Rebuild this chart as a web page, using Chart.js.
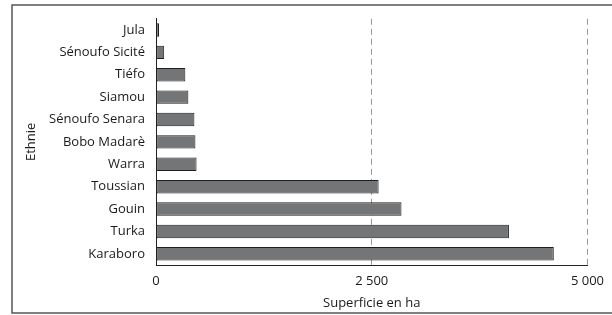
<!DOCTYPE html>
<html>
<head>
<meta charset="utf-8">
<script src="https://cdn.jsdelivr.net/npm/chart.js@4"></script>
<style>
  body { margin: 0; background: #fff; }
  #wrap { width: 612px; height: 315px; }
</style>
</head>
<body>
<div id="wrap"><canvas id="surfaceChart" width="612" height="315"></canvas></div>
<script>
const ethnies = ['Jula', 'Sénoufo Sicité', 'Tiéfo', 'Siamou', 'Sénoufo Senara', 'Bobo Madarè', 'Warra', 'Toussian', 'Gouin', 'Turka', 'Karaboro'];
const superficies = [35, 95, 340, 375, 445, 457, 470, 2580, 2845, 4090, 4610];
const xTicks = [0, 2500, 5000];
const xTickLabels = ['0', '2 500', '5 000'];

// cadre autour du graphique
const framePlugin = {
  id: 'frame',
  beforeDraw(chart) {
    const ctx = chart.ctx;
    ctx.save();
    ctx.strokeStyle = '#555';
    ctx.lineWidth = 1.5;
    ctx.beginPath();
    ctx.moveTo(615, 5);
    ctx.lineTo(12, 5);
    ctx.lineTo(12, 313);
    ctx.lineTo(615, 313);
    ctx.stroke();
    ctx.restore();
  }
};

const font = { family: 'Open Sans', size: 13 };

const ctx = document.getElementById('surfaceChart').getContext('2d');
new Chart(ctx, {
  type: 'bar',
  data: {
    labels: ethnies,
    datasets: [{
      label: 'Superficie',
      data: superficies,
      backgroundColor: '#737577',
      borderColor: '#1e1e1e',
      borderWidth: 1,
      borderSkipped: false,
      barPercentage: 0.6,
      categoryPercentage: 1
    }]
  },
  options: {
    indexAxis: 'y',
    responsive: false,
    animation: false,
    layout: { padding: { left: 23, top: 14, right: 23, bottom: 4 } },
    plugins: {
      legend: { display: false },
      tooltip: { enabled: false }
    },
    scales: {
      x: {
        min: 0,
        max: 5000,
        afterBuildTicks(scale) {
          scale.ticks = xTicks.map(v => ({ value: v }));
        },
        afterFit(scale) { scale.height = 46; },
        ticks: {
          color: '#1a1a1a',
          font: font,
          padding: 8,
          maxRotation: 0,
          callback: (v) => xTickLabels[xTicks.indexOf(v)]
        },
        grid: {
          drawTicks: false,
          color: (c) => c.tick && c.tick.value === 0 ? 'rgba(0,0,0,0)' : '#999',
          lineWidth: 1
        },
        border: { display: true, color: '#222', width: 1, dash: [6, 4] },
        title: { display: true, text: 'Superficie en ha', color: '#1a1a1a', font: font, padding: { top: 4, bottom: 0 } }
      },
      y: {
        afterFit(scale) { scale.width = 133; },
        ticks: { color: '#1a1a1a', font: font, padding: 11 },
        grid: { display: false, drawTicks: false },
        border: { display: true, color: '#222', width: 1 },
        title: { display: true, text: 'Ethnie', color: '#1a1a1a', font: font, padding: { top: 0, bottom: 4 } }
      }
    }
  },
  plugins: [framePlugin]
});
</script>
</body>
</html>
